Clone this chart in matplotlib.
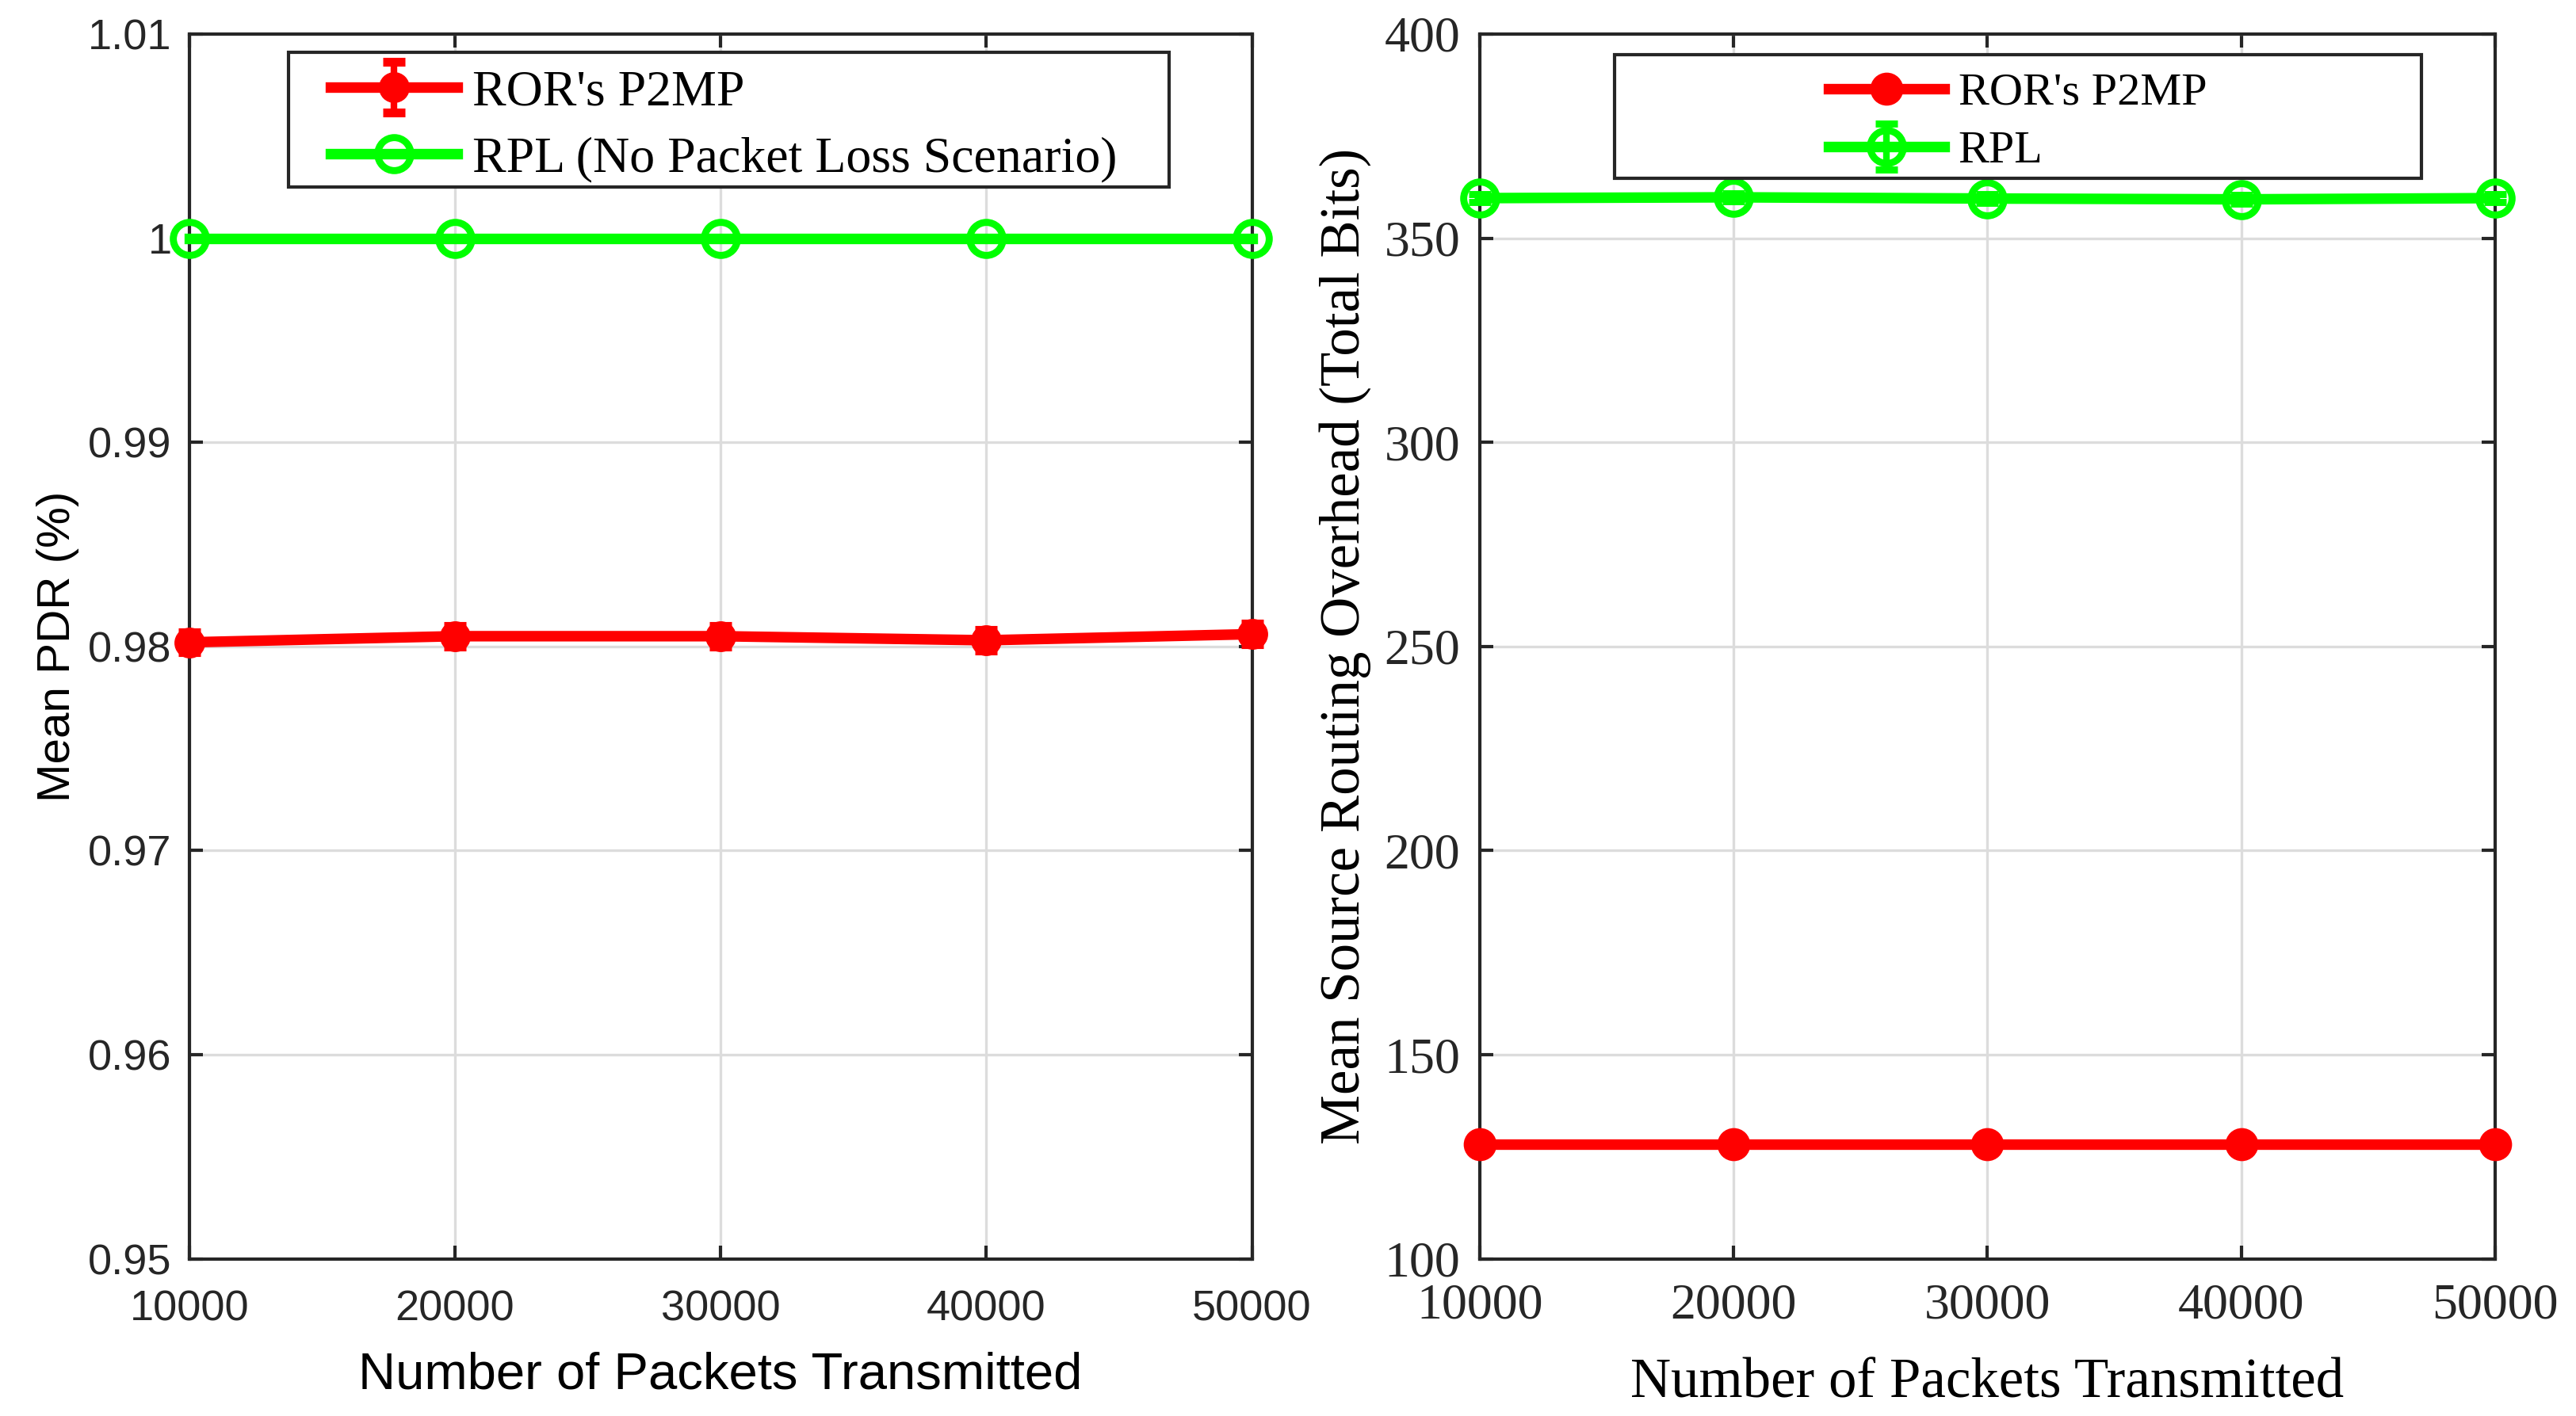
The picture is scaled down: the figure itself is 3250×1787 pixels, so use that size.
import matplotlib
matplotlib.use("Agg")
import matplotlib.pyplot as plt
from matplotlib.patches import Rectangle

# packets sent per run
packets = [10000, 20000, 30000, 40000, 50000]

# left panel: mean PDR
pdr_ror = [0.9802, 0.9805, 0.9805, 0.9803, 0.9806]
pdr_ror_err = [0.0005, 0.0005, 0.0005, 0.0005, 0.0005]
pdr_rpl = [1.0, 1.0, 1.0, 1.0, 1.0]

# right panel: source routing overhead (bits)
ovh_ror = [128, 128, 128, 128, 128]
ovh_rpl = [359.8, 360.0, 359.7, 359.5, 359.8]
ovh_rpl_err = [1.0, 1.0, 1.0, 1.0, 1.0]

RED = "#ff0000"
GREEN = "#00ff00"
DARK = "#262626"
SANS = "Liberation Sans"
SERIF = "Liberation Serif"
LW = 4.8


def style_axes(ax, font, tsize, xpad, ypad):
	ax.grid(True, color="#dcdcdc", linewidth=1.2)
	ax.set_axisbelow(True)
	for s in ax.spines.values():
		s.set_color(DARK)
		s.set_linewidth(1.5)
	ax.tick_params(direction="in", length=6, width=1.5, color=DARK,
		top=True, right=True, labelsize=tsize, labelcolor=DARK)
	ax.tick_params(axis="x", pad=xpad)
	ax.tick_params(axis="y", pad=ypad)
	for lab in ax.get_xticklabels() + ax.get_yticklabels():
		lab.set_fontfamily(font)


#MATLAB style legend box, drawn by hand so the padding can be set
def legend_box(ax, x0, y0, w, h):
	ax.add_patch(Rectangle((x0, y0), w, h, transform=ax.transAxes,
		facecolor="white", edgecolor=DARK, lw=1.5, zorder=5, clip_on=False))


fig = plt.figure(figsize=(16.25, 8.935), dpi=200)
ax1 = fig.add_axes([0.0735, 0.111, 0.4125, 0.865])
ax2 = fig.add_axes([0.5745, 0.111, 0.394, 0.865])

# ---- left ----
h_ror = ax1.errorbar(packets, pdr_ror, yerr=pdr_ror_err, color=RED, lw=LW, marker="o",
	ms=13, capsize=5, capthick=4, elinewidth=3, clip_on=False, zorder=3)
h_rpl, = ax1.plot(packets, pdr_rpl, color=GREEN, lw=LW, marker="o", ms=15, mfc="none",
	mew=3.2, clip_on=False, zorder=3)
ax1.set_xlim(10000, 50000)
ax1.set_ylim(0.95, 1.01)
ax1.set_xticks(packets)
ax1.set_yticks([0.95, 0.96, 0.97, 0.98, 0.99, 1.0, 1.01])
ax1.set_yticklabels(["0.95", "0.96", "0.97", "0.98", "0.99", "1", "1.01"])
style_axes(ax1, SANS, 19.5, 14, 8)
ax1.set_xlabel("Number of Packets Transmitted", fontfamily=SANS, fontsize=23.5, labelpad=10)
ax1.set_ylabel("Mean PDR (%)", fontfamily=SANS, fontsize=21, labelpad=4)
legend_box(ax1, 0.093, 0.875, 0.829, 0.110)
leg1 = ax1.legend([h_ror, h_rpl], ["ROR's P2MP", "RPL (No Packet Loss Scenario)"],
	loc="center", bbox_to_anchor=(0.503, 0.925), frameon=False,
	prop={"family": SERIF, "size": 23}, handlelength=2.5,
	borderpad=0.2, labelspacing=0.4, handletextpad=0.3)
leg1.set_zorder(6)

# ---- right ----
h2_ror, = ax2.plot(packets, ovh_ror, color=RED, lw=LW, marker="o", ms=14, clip_on=False,
	zorder=3)
h2_rpl = ax2.errorbar(packets, ovh_rpl, yerr=ovh_rpl_err, color=GREEN, lw=LW, marker="o",
	ms=15, mfc="none", mew=3.2, capsize=5, capthick=4, elinewidth=3, clip_on=False,
	zorder=3)
ax2.set_xlim(10000, 50000)
ax2.set_ylim(100, 400)
ax2.set_xticks(packets)
ax2.set_yticks(range(100, 401, 50))
style_axes(ax2, SERIF, 23, 11, 9)
ax2.set_xlabel("Number of Packets Transmitted", fontfamily=SERIF, fontsize=25.5, labelpad=13)
ax2.set_ylabel("Mean Source Routing Overhead (Total Bits)", fontfamily=SERIF,
	fontsize=25.5, labelpad=6)
legend_box(ax2, 0.133, 0.882, 0.795, 0.101)
leg2 = ax2.legend([h2_ror, h2_rpl], ["ROR's P2MP", "RPL"],
	loc="center", bbox_to_anchor=(0.53, 0.928), frameon=False,
	prop={"family": SERIF, "size": 21}, handlelength=2.5,
	borderpad=0.2, labelspacing=0.35, handletextpad=0.3)
leg2.set_zorder(6)

fig.savefig("out.png", dpi=200)
